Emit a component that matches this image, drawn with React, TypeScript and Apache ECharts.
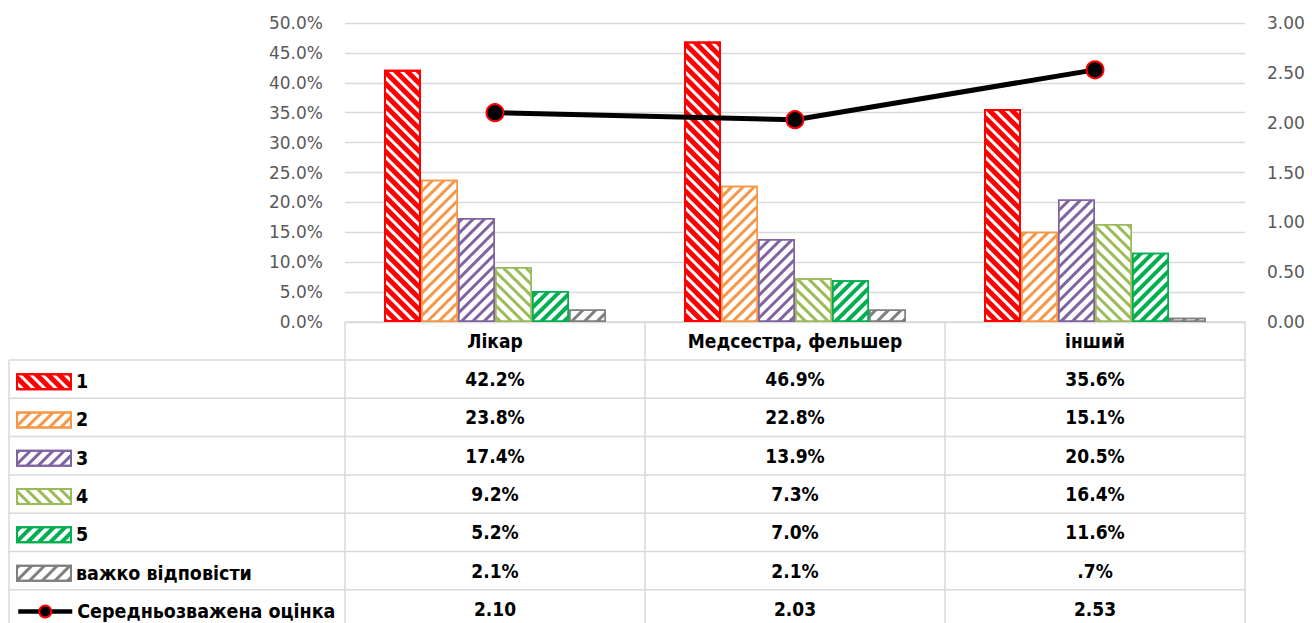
import React, { useEffect, useRef } from "react";
import * as echarts from "echarts";

const categories = ["Лікар", "Медсестра, фельшер", "інший"];
const seriesNames = ["1", "2", "3", "4", "5", "важко відповісти"];
const lineName = "Середньозважена оцінка";
const s1 = [42.2, 46.9, 35.6];
const s2 = [23.8, 22.8, 15.1];
const s3 = [17.4, 13.9, 20.5];
const s4 = [9.2, 7.3, 16.4];
const s5 = [5.2, 7.0, 11.6];
const s6 = [2.1, 2.1, 0.7];
const avgScore = [2.1, 2.03, 2.53];
const barData = [s1, s2, s3, s4, s5, s6];

const colors = ["#FF0000", "#F79646", "#8064A2", "#9BBB59", "#00B050", "#7F7F7F"];
const BACK = Math.PI / 4;
const FWD = -Math.PI / 4;
const decals = [
  { dashArrayY: [4.5, 3], rotation: BACK },
  { dashArrayY: [2.5, 5], rotation: FWD },
  { dashArrayY: [2.5, 5], rotation: FWD },
  { dashArrayY: [2.5, 5], rotation: BACK },
  { dashArrayY: [4, 3.5], rotation: FWD },
  { dashArrayY: [3, 6], rotation: FWD },
];

const W = 1312;
const H = 623;
const GRID_LEFT = 345;
const GRID_WIDTH = 900;
const GRID_TOP = 23;
const GRID_HEIGHT = 299;
const TABLE_LEFT = 9;
const HEADER_H = 38;
const ROW_H = 38.3;

const tableFont = "'Liberation Sans Narrow', 'DejaVu Sans Condensed', sans-serif";
const axisFont = "'DejaVu Sans', sans-serif";

function pct(v: number): string {
  const s = v.toFixed(1);
  return (s.startsWith("0") ? s.slice(1) : s) + "%";
}

export default function App() {
  const ref = useRef<HTMLDivElement>(null);
  useEffect(() => {
    document.body.style.margin = "0";
    const chart = echarts.init(ref.current!, undefined, { renderer: "svg" });
    const tableTop = GRID_TOP + GRID_HEIGHT;
    const rowsTop = tableTop + HEADER_H;
    const nRows = seriesNames.length + 1;
    const colW = GRID_WIDTH / categories.length;
    const graphics: any[] = [];
    const lineStyle = { stroke: "#D9D9D9", lineWidth: 1.5 };
    for (let r = 0; r <= nRows; r++) {
      const y = rowsTop + r * ROW_H;
      graphics.push({ type: "line", shape: { x1: TABLE_LEFT, y1: y, x2: GRID_LEFT + GRID_WIDTH, y2: y }, style: lineStyle, silent: true });
    }
    for (let c = 0; c <= categories.length; c++) {
      const x = GRID_LEFT + c * colW;
      graphics.push({ type: "line", shape: { x1: x, y1: tableTop, x2: x, y2: H + 10 }, style: lineStyle, silent: true });
    }
    graphics.push({ type: "line", shape: { x1: TABLE_LEFT, y1: rowsTop, x2: TABLE_LEFT, y2: H + 10 }, style: lineStyle, silent: true });
    const textEl = (text: string, x: number, y: number) => ({
      type: "text",
      x,
      y,
      silent: true,
      style: {
        text,
        fontFamily: tableFont,
        fontSize: 19,
        fontWeight: "bold",
        fill: "#000",
        align: "center",
        verticalAlign: "middle",
        textAlign: "center",
        textVerticalAlign: "middle",
      },
    });
    categories.forEach((cat, c) => {
      const cx = GRID_LEFT + (c + 0.5) * colW;
      graphics.push(textEl(cat, cx, tableTop + HEADER_H / 2));
      barData.forEach((arr, r) => {
        graphics.push(textEl(pct(arr[c]), cx, rowsTop + (r + 0.5) * ROW_H));
      });
      graphics.push(textEl(avgScore[c].toFixed(2), cx, rowsTop + (barData.length + 0.5) * ROW_H));
    });

    const barSeries = seriesNames.map((name, i) => ({
      name,
      type: "bar",
      yAxisIndex: 0,
      data: barData[i],
      barGap: "0%",
      barCategoryGap: "26%",
      itemStyle: {
        color: "#FFFFFF",
        borderColor: colors[i],
        borderWidth: i === 0 ? 2 : 1.5,
        decal: {
          symbol: "rect",
          color: colors[i],
          dashArrayX: [1, 0],
          dashArrayY: decals[i].dashArrayY,
          rotation: decals[i].rotation,
        },
      },
    }));

    const legendNames = [...seriesNames, lineName];
    const legends = legendNames.map((n, r) => {
      const isLine = r >= seriesNames.length;
      const l: any = {
        orient: "vertical",
        left: 16,
        top: rowsTop + (r + 0.5) * ROW_H - 7.5,
        padding: 0,
        itemWidth: 54,
        itemHeight: 15,
        selectedMode: false,
        data: [isLine ? { name: n } : { name: n, icon: "rect" }],
        textStyle: { fontFamily: tableFont, fontSize: 19.5, fontWeight: "bold", color: "#000" },
      };
      if (isLine) l.lineStyle = { width: 4.5, color: "#000" };
      return l;
    });

    chart.setOption({
      animation: false,
      grid: { left: GRID_LEFT, top: GRID_TOP, width: GRID_WIDTH, height: GRID_HEIGHT, containLabel: false },
      legend: legends,
      xAxis: {
        type: "category",
        data: categories,
        axisLine: { show: true, lineStyle: { color: "#D9D9D9", width: 1.5 } },
        axisTick: { show: false },
        axisLabel: { show: false },
      },
      yAxis: [
        {
          type: "value",
          min: 0,
          max: 50,
          interval: 5,
          axisLine: { show: false },
          axisTick: { show: false },
          axisLabel: { formatter: (v: number) => v.toFixed(1) + "%", color: "#595959", fontFamily: axisFont, fontSize: 17, margin: 22 },
          splitLine: { lineStyle: { color: "#D9D9D9", width: 1.3 } },
        },
        {
          type: "value",
          min: 0,
          max: 3,
          interval: 0.5,
          position: "right",
          axisLine: { show: false },
          axisTick: { show: false },
          axisLabel: { formatter: (v: number) => v.toFixed(2), color: "#595959", fontFamily: axisFont, fontSize: 17, margin: 22 },
          splitLine: { show: false },
        },
      ],
      series: [
        ...barSeries,
        {
          name: lineName,
          type: "line",
          yAxisIndex: 1,
          data: avgScore,
          z: 5,
          symbol: "circle",
          symbolSize: 17,
          lineStyle: { color: "#000", width: 5 },
          itemStyle: { color: "#000", borderColor: "#FF0000", borderWidth: 2 },
        },
      ],
      graphic: graphics,
    });
    return () => chart.dispose();
  }, []);
  return <div ref={ref} style={{ width: W, height: H }} />;
}
